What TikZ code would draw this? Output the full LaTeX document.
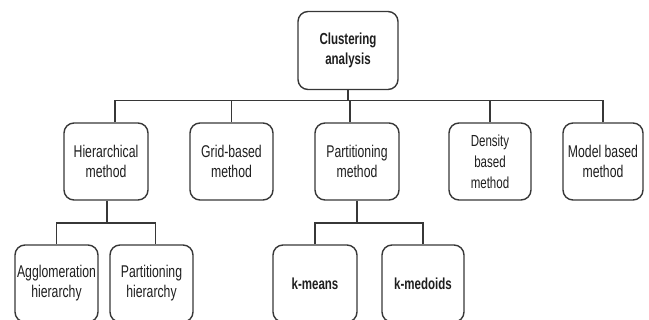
\documentclass[tikz,border=0pt]{standalone}
\usepackage{fontspec}
\setmainfont{Liberation Sans}[FakeStretch=0.72]
\definecolor{cline}{RGB}{55,55,55}
\definecolor{ctext}{RGB}{30,30,30}
\tikzset{clbox/.style={draw=cline,line width=1.4pt,rounded corners=10pt,
    align=center,text=ctext,inner sep=2pt,
    font=\fontsize{17}{20}\selectfont},
  clbold/.style={font=\fontsize{16}{20}\selectfont\bfseries},
  clwire/.style={draw=cline,line width=1.4pt}}

\begin{document}
\begin{tikzpicture}[x=1pt,y=-1pt]
    \useasboundingbox (0,0) rectangle (649,320);
    \node[clbox,clbold,minimum width=100pt,minimum height=78pt] (root) at (348,50.5) {Clustering\\analysis};
    \node[clbox,minimum width=84pt,minimum height=77pt] (hier)  at (106,161.5) {Hierarchical\\method};
    \node[clbox,minimum width=83pt,minimum height=77pt] (grid)  at (231.5,161.5) {Grid-based\\method};
    \node[clbox,minimum width=84pt,minimum height=77pt] (part)  at (357,161.5) {Partitioning\\method};
    \node[clbox,minimum width=82pt,minimum height=77pt,font=\fontsize{16}{21}\selectfont] (dens)  at (490,161.5) {Density\\based\\method};
    \node[clbox,minimum width=80pt,minimum height=77pt] (model) at (603,161.5) {Model based\\method};
    \node[clbox,minimum width=83pt,minimum height=77pt] (aggl)  at (56.5,283.5) {Agglomeration\\hierarchy};
    \node[clbox,minimum width=83pt,minimum height=77pt] (phier) at (151.5,283.5) {Partitioning\\hierarchy};
    \node[clbox,clbold,minimum width=84pt,minimum height=77pt] (kmeans) at (315,283.5) {k-means};
    \node[clbox,clbold,minimum width=82pt,minimum height=77pt] (kmed)   at (423,283.5) {k-medoids};
    % buses
    \coordinate (bus1) at (348,100.5);
    \coordinate (bus2) at (107,223);
    \coordinate (bus3) at (357,223);
    \draw[clwire] (root.south) -- (bus1);
    \draw[clwire] ([xshift=9pt]hier.north) |- (bus1);
    \foreach \c in {grid,dens,model} \draw[clwire] (\c.north) |- (bus1);
    \draw[clwire] ([xshift=-7pt]part.north) |- (bus1);
    \draw[clwire] (hier.south -| bus2) -- (bus2);
    \draw[clwire] (aggl.north) |- (bus2);
    \draw[clwire] ([xshift=4pt]phier.north) |- (bus2);
    \draw[clwire] (part.south) -- (bus3);
    \foreach \c in {kmeans,kmed} \draw[clwire] (\c.north) |- (bus3);
\end{tikzpicture}
\end{document}
